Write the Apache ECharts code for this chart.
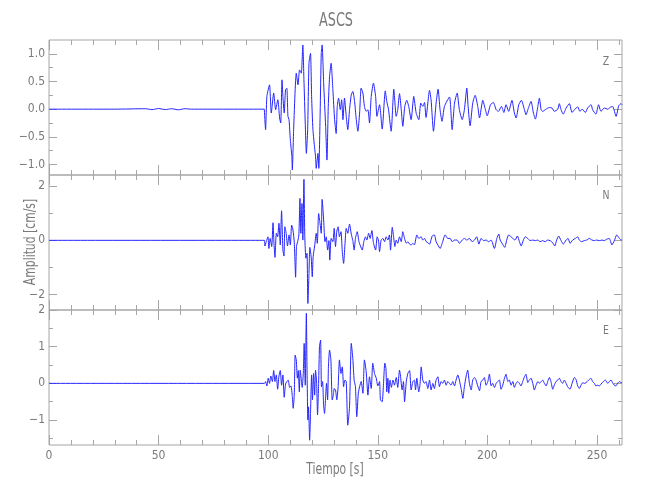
<!DOCTYPE html>
<html><head><meta charset="utf-8">
<script src="https://cdn.jsdelivr.net/npm/echarts@6/dist/echarts.min.js"></script>
<style>html,body{margin:0;padding:0;background:#fff}#c{width:650px;height:500px}</style>
</head><body><div id="c"></div>
<script>
const chartTitle = 'ASCS';
const xName = 'Tiempo [s]';
const yName = 'Amplitud [cm/s]';
const panelNames = ['Z', 'N', 'E'];

const xRange = [0, 261.4];
const xMajorTicks = [0, 50, 100, 150, 200, 250];
const xMinorTicks = [10,20,30,40,60,70,80,90,110,120,130,140,160,170,180,190,210,220,230,240,260];

const zRange = [-1.19, 1.25];
const zMajorTicks = [-1, -0.5, 0, 0.5, 1];
const zMinorTicks = [-0.75, -0.25, 0.25, 0.75];
const nRange = [-2.57, 2.41];
const nMajorTicks = [-2, 0, 2];
const nMinorTicks = [-1, 1];
const eRange = [-1.68, 2.0];
const eMajorTicks = [-1, 0, 1, 2];
const eMinorTicks = [-1.5, -0.5, 0.5, 1.5];

// Z component [time s, amplitude cm/s]
const zWave = [
[0,0],[30,0],[44,0.008],[47,-0.008],[50,0.012],[53,-0.008],[56,0.008],[59,-0.012],[62,0.008],[65,0],[98.2,0],
[98.4,0],[98.8,-0.37],[99.4,0.23],[100.6,0.44],[101.4,-0.07],[102.5,0.29],[103.4,-0.01],[104.4,0.17],[105.2,-0.16],[105.7,-0.25],
[106.3,0.53],[106.7,0.23],[107.3,-0.07],[107.9,0.35],[108.5,0.38],[109.0,-0.13],[109.5,-0.19],[110.1,-0.56],[110.8,-0.86],[111.0,-1.10],
[111.6,-0.37],[112.3,0.35],[112.8,0.65],[113.6,0.44],[114.3,0.71],[115.1,0.65],[115.8,1.16],[116.3,0.53],[116.9,-0.25],[117.4,-0.80],
[118.0,-0.37],[118.6,0.83],[119.3,1.01],[119.8,0.23],[120.4,-0.37],[121.2,-0.71],[121.6,-0.86],[121.9,-1.07],[122.7,-0.80],[123.1,-1.07],
[123.7,-0.07],[124.2,1.01],[124.6,1.16],[125.3,0.47],[126.2,-0.31],[126.8,-0.92],[127.4,0.05],[128.0,0.59],[128.7,0.83],[129.5,0.35],
[130.3,-0.19],[131.0,-0.44],[131.5,0.05],[132.1,0.20],[132.9,-0.01],[133.5,0.17],[134.1,-0.19],[134.8,0.20],[135.6,-0.13],[136.3,-0.37],
[137.1,-0.01],[137.9,0.26],[138.6,0.32],[139.4,0.14],[140.1,-0.16],[140.9,-0.40],[141.7,-0.07],[142.4,0.38],[143.2,0.29],[143.9,0.05],
[144.7,-0.04],[145.5,-0.01],[146.2,-0.25],[147.0,0.23],[148.0,0.47],[149.0,0.23],[149.6,-0.13],
[150.8,0.08],[152.0,-0.36],[153.4,0.33],[154.1,0.14],[154.9,-0.01],[156.1,-0.40],[157.3,0.36],[158.4,-0.13],[159.1,-0.01],[159.9,0.28],
[160.7,-0.01],[161.4,-0.31],[162.3,0.05],[163.2,0.16],[164.1,0.05],[165.2,-0.19],[166.4,0.23],[167.5,-0.07],[168.7,-0.19],[169.6,0.11],
[170.5,0.05],[171.3,0.12],[172.0,-0.15],[173.6,0.34],[174.3,0.17],[175.4,-0.40],[176.6,0.11],[177.5,0.36],[178.4,-0.01],[179.3,-0.22],
[180.4,0.05],[182.7,0.22],[183.9,-0.37],[185.0,0.11],[186.2,0.29],[187.2,-0.01],[188.5,-0.19],[189.5,-0.01],[190.6,0.38],[191.2,0.05],
[192.1,-0.30],[193.3,0.11],[194.4,0.25],[195.6,0.05],[196.4,-0.16],[197.9,0.16],[199.1,-0.01],[199.9,-0.12],[201.4,0.08],[202.7,0.12],
[204.0,-0.01],[205.0,-0.04],[206.4,0.05],[207.5,-0.06],[208.5,0.08],[209.7,-0.04],[211.2,0.16],[212.3,-0.07],[213.1,-0.16],[214.3,0.08],
[215.5,0.16],[216.9,-0.01],[217.6,-0.10],[218.7,0.02],[219.9,0.14],[221.0,-0.07],[221.9,-0.18],[223.0,0.05],[223.7,0.20],[224.5,-0.01],
[225.2,-0.04],[226.7,0.00],[228.3,0.03],[229.5,0.02],[230.5,-0.04],[232.1,0.00],[232.8,0.10],[233.6,-0.01],[234.6,-0.09],[235.9,0.02],
[237.4,0.10],[238.6,-0.06],[239.7,-0.01],[241.2,0.04],[242.2,-0.04],[243.2,0.00],[244.7,-0.06],[245.7,0.02],[247.3,0.08],[248.0,-0.01],
[249.5,-0.09],[250.7,0.08],[251.8,-0.04],[253.3,0.02],[254.9,0.00],[255.9,0.03],[257.1,0.05],[258.7,-0.13],[259.9,0.06],[261.0,0.10],[261.4,0.08]
];

// N component [time s, amplitude cm/s]
const nWave = [
[0,0],[98.3,0],[98.5,-0.21],[99.1,-0.05],[99.9,0.13],[100.3,-0.30],[100.9,0.07],[101.6,-0.23],[102.2,0.65],[102.6,-0.05],
[103.1,-0.63],[103.7,0.26],[104.3,0.13],[104.9,0.63],[105.5,-0.17],[106.1,1.09],[106.7,-0.36],[107.2,-0.58],[107.6,0.50],[108.2,0.26],
[108.8,-0.21],[109.5,0.20],[110.1,-0.17],[110.7,0.56],[111.3,0.38],[111.9,-0.09],[112.5,-1.36],[112.9,-0.23],[113.6,0.01],[114.0,0.20],
[114.5,1.55],[114.9,0.26],[115.4,1.36],[115.8,0.01],[116.3,2.25],[116.7,0.13],[117.2,-0.66],[117.7,-0.48],[118.1,-2.33],[118.6,-1.22],
[119.0,-0.26],[119.6,-0.61],[120.1,-1.34],[120.5,-0.60],[121.2,-0.21],[121.9,0.26],[122.4,-0.11],[123.0,0.99],[123.6,0.65],[124.2,0.26],
[124.6,1.51],[125.3,0.75],[125.9,-0.05],[126.5,0.13],[127.1,-0.36],[127.7,-0.01],[128.1,-0.73],[128.7,0.07],[129.5,-0.05],[130.1,0.44],
[130.7,-0.23],[131.3,0.34],[131.9,0.50],[132.5,0.13],[133.2,0.32],[133.8,-0.42],[134.4,-0.85],[135.0,-0.17],[135.6,0.44],[136.3,0.26],
[137.1,0.60],[137.9,0.23],[138.6,-0.01],[139.2,-0.36],[139.8,0.07],[140.6,0.32],[141.4,-0.05],[142.1,-0.21],[142.9,-0.36],[143.6,-0.05],
[144.4,0.13],[145.0,0.01],[145.8,0.26],[146.5,0.07],[147.3,0.36],[148.0,-0.09],[149.0,-0.36],[149.7,0.13],[150.3,0.01],
[150.8,-0.42],[151.5,0.01],[152.3,0.07],[153.1,-0.05],[153.8,0.13],[154.6,0.01],[155.3,0.20],[155.8,-0.36],[156.6,0.48],[157.2,0.13],
[157.8,-0.23],[158.4,0.01],[159.1,-0.11],[159.9,0.13],[160.7,-0.05],[161.4,0.32],[162.2,0.07],[163.0,-0.11],[163.7,-0.05],[164.5,-0.14],
[165.2,-0.17],[166.0,-0.11],[166.7,-0.17],[167.8,0.20],[168.7,0.07],[169.8,0.13],[170.5,0.01],[171.3,0.07],[172.1,-0.05],[172.8,-0.09],
[173.6,-0.14],[174.8,0.16],[175.8,0.20],[176.6,-0.05],[177.4,-0.17],[178.4,-0.30],[179.6,-0.05],[180.7,0.20],[181.9,0.07],[183.0,0.07],
[183.9,-0.05],[185.0,0.01],[186.2,0.01],[187.2,-0.11],[188.5,0.01],[189.5,0.07],[190.6,0.01],[191.8,0.07],[193.0,-0.05],[194.1,0.01],
[195.1,0.13],[196.1,-0.14],[197.1,0.07],[198.2,-0.01],[199.4,0.01],[200.6,-0.05],[201.7,0.01],[203.2,-0.30],[204.3,0.07],[205.2,0.23],
[205.8,0.01],[206.7,-0.11],[207.9,-0.26],[208.8,0.01],[209.7,0.20],[210.8,0.13],[211.6,0.07],[212.6,0.01],[213.7,0.16],[214.6,-0.05],
[215.4,-0.21],[216.4,0.01],[217.3,0.13],[218.4,0.07],[219.5,-0.01],[220.7,0.01],[221.9,-0.01],[223.0,0.01],[224.0,-0.05],[225.2,-0.01],
[226.3,-0.05],[227.5,0.01],[228.6,-0.01],[229.8,-0.09],[230.7,-0.21],[231.6,0.01],[232.5,0.16],[233.6,-0.01],[234.6,-0.14],[235.9,0.01],
[236.8,0.07],[237.7,-0.11],[238.9,0.01],[240.1,0.07],[241.2,0.13],[241.9,0.01],[243.0,-0.05],[244.2,-0.01],[245.3,0.01],[246.5,0.07],
[247.7,0.01],[248.8,-0.01],[249.8,0.01],[251.1,-0.01],[252.3,0.01],[253.3,-0.01],[254.4,0.04],[255.6,0.07],[256.8,-0.17],[257.9,-0.01],
[259.0,0.20],[260.2,0.07],[261.0,0.01],[261.4,0.02]
];

// E component [time s, amplitude cm/s]
const eWave = [
[0,0],[98.3,0],[98.8,0.05],[99.4,-0.07],[100.0,0.14],[100.6,0.00],[101.2,0.20],[101.9,0.05],[102.5,0.35],[103.1,0.05],
[103.7,0.23],[104.3,-0.16],[104.9,0.20],[105.5,0.35],[106.1,-0.05],[106.7,0.23],[107.3,-0.38],[107.9,-0.02],[108.5,0.05],[109.1,0.09],
[109.8,-0.11],[110.4,-0.07],[111.0,-0.36],[111.4,-0.68],[111.9,-0.29],[112.3,0.77],[112.8,0.64],[113.3,0.14],[113.7,0.35],[114.2,-0.23],
[114.6,0.36],[115.1,0.11],[115.5,-0.11],[116.0,0.27],[116.4,1.09],[116.9,-0.05],[117.4,1.91],[117.7,0.45],[118.1,-1.00],[118.4,-0.64],
[118.9,-1.55],[119.3,-0.82],[119.8,0.23],[120.2,-0.45],[120.7,0.27],[121.2,-0.32],[121.6,0.36],[122.1,0.00],[122.5,-0.86],[123.0,0.00],
[123.4,1.00],[123.9,1.18],[124.3,-0.09],[124.8,0.05],[125.3,-0.64],[125.7,-0.82],[126.2,-0.36],[126.6,0.00],[127.1,-0.45],[127.5,0.50],
[128.0,0.91],[128.6,0.64],[129.2,-0.45],[129.7,-0.32],[130.1,-0.14],[130.7,-0.18],[131.3,-0.45],[131.9,-0.09],[132.5,0.64],[133.2,0.27],
[133.8,0.45],[134.4,-0.09],[135.0,0.09],[135.6,0.05],[136.3,-1.14],[137.1,-0.64],[137.9,1.09],[138.6,0.68],[139.2,0.09],[139.8,-0.09],
[140.4,-0.91],[141.1,-0.27],[141.7,-0.09],[142.4,0.05],[143.2,-0.27],[143.9,0.64],[144.7,0.32],[145.5,-0.32],[146.2,0.18],[147.0,-0.14],
[147.7,0.55],[148.5,0.27],[149.3,0.14],[150.0,-0.07],
[150.8,0.05],[151.2,-0.45],[152.0,-0.50],[152.6,0.00],[153.2,0.55],[153.7,0.41],[154.1,-0.23],[154.6,0.14],[155.0,-0.27],[155.6,0.09],
[156.2,-0.11],[156.9,0.09],[157.6,-0.05],[158.4,0.16],[159.1,-0.11],[159.9,0.36],[160.3,0.23],[161.1,-0.18],[161.7,0.05],[162.2,-0.50],
[163.0,0.05],[163.7,0.27],[164.5,0.35],[165.2,-0.18],[166.0,0.05],[166.7,0.09],[167.2,-0.18],[167.8,0.14],[168.7,-0.23],[169.3,0.00],
[169.8,0.45],[170.5,0.09],[171.3,0.00],[172.0,0.05],[172.8,-0.14],[173.6,0.09],[174.3,-0.18],[175.1,0.00],[175.8,-0.14],[176.6,0.09],
[177.4,0.18],[178.1,-0.09],[178.9,0.05],[179.6,0.00],[180.4,0.09],[181.2,-0.05],[181.9,0.05],[182.7,0.00],[183.4,-0.05],[184.2,0.05],
[185.0,-0.07],[185.7,0.09],[186.5,0.23],[187.2,0.09],[188.0,-0.14],[188.8,-0.41],[189.5,-0.09],[190.3,0.20],[191.0,0.36],[191.8,0.00],
[192.6,-0.18],[193.3,0.09],[194.1,0.16],[194.8,0.09],[195.6,-0.07],[196.4,-0.20],[197.1,0.05],[197.9,0.09],[198.6,0.16],[199.4,-0.05],
[200.2,0.05],[200.9,0.25],[201.7,-0.07],[202.4,0.00],[203.2,-0.11],[204.0,0.00],[204.7,0.05],[205.5,0.09],[206.2,-0.16],[207.0,-0.05],
[207.8,0.14],[208.5,0.25],[209.3,0.05],[210.0,0.09],[210.8,-0.05],[211.6,0.05],[212.3,-0.11],[213.1,0.00],[213.8,0.05],[214.6,0.00],
[215.3,-0.07],[216.1,0.05],[216.9,0.18],[217.6,0.25],[218.4,0.02],[219.1,0.09],[219.9,0.14],[220.7,0.00],[221.4,-0.18],[222.2,-0.05],
[223.0,0.05],[223.7,0.00],[224.5,0.05],[225.2,0.09],[226.0,0.00],[226.8,-0.07],[227.5,0.05],[228.3,0.16],[229.0,0.05],[229.8,-0.16],
[230.5,-0.05],[231.3,0.05],[232.1,0.09],[232.8,0.14],[233.6,0.05],[234.3,0.00],[235.1,0.09],[235.9,0.00],[236.6,-0.09],[237.7,-0.16],
[238.6,0.00],[239.7,0.16],[240.4,0.11],[241.2,-0.07],[241.9,-0.14],[242.7,-0.05],[243.5,0.02],[244.2,0.00],[245.0,0.02],[246.2,0.09],
[247.2,0.14],[248.0,0.05],[248.8,0.00],[249.5,-0.07],[250.3,-0.05],[251.1,-0.07],[251.8,-0.02],[252.9,0.05],[253.8,0.09],[254.9,0.00],
[255.6,0.05],[256.4,0.09],[257.1,0.02],[257.9,-0.05],[258.6,-0.07],[259.4,0.00],[260.2,0.05],[261.0,0.02],[261.4,0.02]
];

const fontFam = "'Liberation Sans Narrow','DejaVu Sans Condensed','Liberation Sans',sans-serif";
const frameColor = '#a6a6a6';
const textColor = '#7a7a7a';
const waveColor = '#2424ff';
const gridTops = [40, 175, 310];
const gridH = 135;

function signed(v, d) {
  const s = Math.abs(v).toFixed(d);
  return (v < 0 ? '\u2212' : '') + s;
}

const panels = [
  {wave: zWave, range: zRange, major: zMajorTicks, minor: zMinorTicks, fmt: v => signed(v, 1)},
  {wave: nWave, range: nRange, major: nMajorTicks, minor: nMinorTicks, fmt: v => signed(v, 0)},
  {wave: eWave, range: eRange, major: eMajorTicks, minor: eMinorTicks, fmt: v => signed(v, 0)}
];

const grids = [], xAxes = [], yAxes = [], series = [];
const labelStyle = {color: textColor, fontFamily: fontFam, fontSize: 12};

panels.forEach((p, i) => {
  grids.push({left: 49, right: 28, top: gridTops[i], height: gridH, show: true,
    borderColor: frameColor, borderWidth: 1, backgroundColor: 'transparent', containLabel: false});
  const mkX = (pos, vals, len, labels) => ({
    gridIndex: i, type: 'value', min: xRange[0], max: xRange[1], position: pos,
    axisLine: {show: false, onZero: false}, splitLine: {show: false},
    axisTick: {show: true, inside: true, length: len, customValues: vals, lineStyle: {color: frameColor, width: 1}},
    axisLabel: labels ? Object.assign({show: true, customValues: xMajorTicks, margin: 5}, labelStyle) : {show: false}
  });
  xAxes.push(mkX('bottom', xMajorTicks, 10, i === 2));
  xAxes.push(mkX('bottom', xMinorTicks, 5, false));
  xAxes.push(mkX('top', xMajorTicks, 10, false));
  xAxes.push(mkX('top', xMinorTicks, 5, false));
  const mkY = (pos, vals, len, labels) => ({
    gridIndex: i, type: 'value', min: p.range[0], max: p.range[1], position: pos,
    axisLine: {show: false, onZero: false}, splitLine: {show: false},
    axisTick: {show: true, inside: true, length: len, customValues: vals, lineStyle: {color: frameColor, width: 1}},
    axisLabel: labels ? Object.assign({show: true, customValues: p.major, margin: 4, formatter: p.fmt}, labelStyle) : {show: false}
  });
  yAxes.push(mkY('left', p.major, 8, true));
  yAxes.push(mkY('left', p.minor, 4, false));
  yAxes.push(mkY('right', p.major, 8, false));
  yAxes.push(mkY('right', p.minor, 4, false));
  series.push({type: 'line', xAxisIndex: i * 4, yAxisIndex: i * 4, data: p.wave,
    showSymbol: false, smooth: 0.2, silent: true, animation: false,
    lineStyle: {color: waveColor, width: 1}});
});

const letterY = [62, 196, 331];
const graphics = [
  {type: 'text', x: 336, y: 21, scaleX: 0.75, style: {text: chartTitle, fill: textColor, font: "19px " + fontFam, textAlign: 'center', textVerticalAlign: 'middle'}},
  {type: 'text', x: 335, y: 470, scaleX: 0.8, style: {text: xName, fill: textColor, font: "15px " + fontFam, textAlign: 'center', textVerticalAlign: 'middle'}},
  {type: 'text', x: 31, y: 242, rotation: Math.PI / 2, scaleX: 0.8, style: {text: yName, fill: textColor, font: "15px " + fontFam, textAlign: 'center', textVerticalAlign: 'middle'}}
];
panelNames.forEach((n, i) => graphics.push({type: 'text', x: 606, y: letterY[i], scaleX: 0.8,
  style: {text: n, fill: textColor, font: "13px " + fontFam, textAlign: 'center', textVerticalAlign: 'middle'}}));

const chart = echarts.init(document.getElementById('c'), null, {renderer: 'canvas'});
chart.setOption({
  animation: false,
  backgroundColor: '#ffffff',
  grid: grids,
  xAxis: xAxes,
  yAxis: yAxes,
  series: series,
  graphic: graphics
});
</script>
</body></html>
